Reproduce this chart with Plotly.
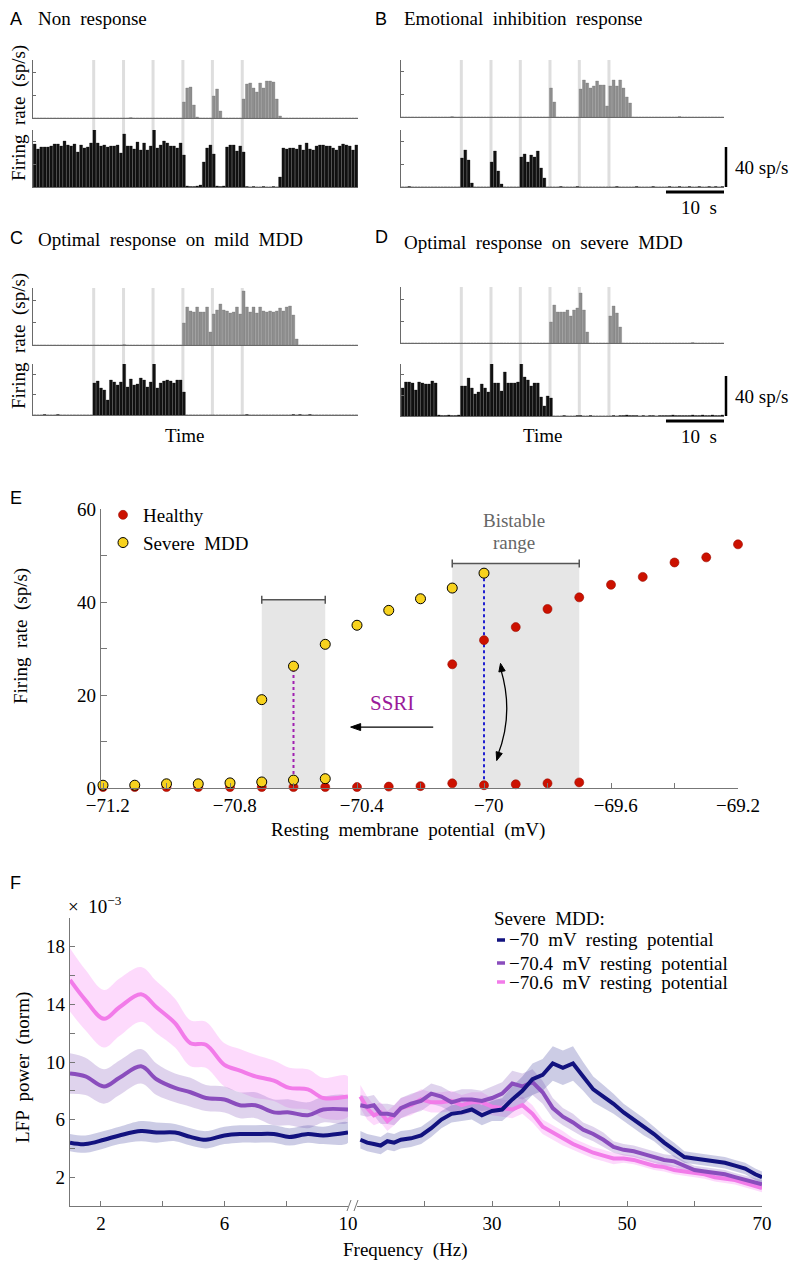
import numpy as np
import plotly.graph_objects as go

# The page shows the figure with the browser's default 8px body offset,
# so the figure is sized to fill the remaining window exactly.
WIN_W, WIN_H, OFF = 800, 1264, 8
W, H = WIN_W - OFF, WIN_H - OFF
SERIF = "Liberation Serif, Times New Roman, serif"
SANS = "Liberation Sans, Arial, sans-serif"

# ---------------- Panels A-D : firing-rate histograms (bins) ----------------
N_BINS = 98
STIM_BINS = [18.3, 27.3, 36.2, 45.2, 54.1, 63.1]
BINS_PER_10S = 17.6
SCALE_RATE = 40

A_TOP = [0,0,0,0,0,0,0,0,0,0,
         0,0,0,0,0,0,0,0,0,0,
         0,0,0,0,0,0,0,0,0,0.5,
         0,0,0,0,0,0,0,0,0,0,
         0,0,0,0,0,16,30,31,13,1,
         0,0,0,0,22,29,7,0,0,0,
         0,0,0,19,34,35,30,26,35,30,
         37,37,36,19,2,0,0,0,0,0,
         0,0,0,0,0,0,0,0,0,0,
         0,0,0,0,0,0,0,0]
A_BOT = [43,38,40,40,40,41,43,43,41,46,
         42,41,43,35,42,39,40,44,57,44,
         41,42,40,41,41,42,34,53,41,41,
         38,45,37,44,37,41,58,39,42,46,
         44,41,41,39,44,32,1,0.5,0.5,1,
         2,25,39,42,33,1,0.5,1,40,42,
         42,36,41,35,0.5,0,0.5,0,0,0.5,
         0,0,0.5,0,10,39,38,39,39,38,
         42,37,44,38,37,41,42,42,41,41,
         39,37,41,43,42,41,37,42]
B_TOP = [0,0,0,0,0,0,0,0,0,0,
         0,0,0,0,0,0.5,0,0,0,0,
         0,0,0,0,0,0,0,0,0,0,
         0,0,0,0,0,0,0,0,0,0,
         0,0,0,0,0,29,15,0,0,0,
         0,0,0,0,28,37,34,29,31,36,
         32,32,11,31,37,31,37,29,20,14,
         0,0,0,0,0,0,0,0,0,0,
         0,0,0,0,0.5,0,0,0,0,0,
         0,0,0,0,0,0,0,0]
B_BOT = [0,0,0.5,0,0,0,0,0,0,0,
         0,0,0,0,0,0,0,0,29,37,
         27,4,0,0,0,0,0,25,36,16,
         3,0,0,0,0,0,30,33,25,32,
         30,36,19,9,0,0,0,0,0.5,0,
         0,0,0,0.5,0,0,0,0,0,0,
         0,0,0,0,0,0.5,0,0,0,0,
         0,0.5,0,0,0,0,0.5,0,0,0,
         0,0.5,0,0,0.5,0,0,0.5,0,0,
         0.5,0,0,0.5,0,0.5,0,0.5]
C_TOP = [0,0,0,0,0,0,0,0,0,0,
         0,0,0,0,0,0,0,0,0,0,
         0,0,0,0,0,0,0,0.5,0,0,
         0,0,0,0,0,0,0,0,0,0,
         0,0,0,0,0,22,38,34,33,38,
         33,33,38,13,31,35,41,35,34,32,
         33,38,31,54,38,33,38,32,38,34,
         33,34,33,34,37,34,38,39,30,6,
         0,0,0,0,0,0,0,0,0,0,
         0,0,0,0,0,0,0,0]
C_BOT = [0,0,0,0.5,0,0,0,0.5,0,0,
         0,0,0,0,0,0,0,0,32,34,
         27,25,15,35,33,30,33,53,28,36,
         30,31,37,35,28,33,57,27,32,34,
         35,34,32,35,35,23,0,0,0,0,
         0,0,0,0,0,0,0,0,0,0,
         0,0,0,0,0.5,0,0,0,0,0,
         0,0,0,0,0,0,0,0,0.5,0,
         0.5,0,0,0.5,0,0,0,0,0,0,
         0,0,0,0,0,0,0,0]
D_TOP = [0,0,0,0,0,0,0,0,0,0,
         0,0,0,0,0,0,0,0,0,0,
         0,0,0,0,0,0,0,0,0,0,
         0,0,0,0,0,0,0,0,0,0,
         0,0,0,0,0,21,38,31,31,31,
         33,27,33,35,50,33,11,0,0,0,
         0,0,0,27,37,30,16,0,0,0,
         0,0,0,0,0,0,0,0,0,0,
         0,0,0,0,0,0,0,0,0.5,0,
         0,0,0,0,0,0,0,0]
D_BOT = [28,34,34,33,26,34,33,32,32,35,
         33,1,0.5,0.5,1,0.5,0.5,1,30,30,
         38,28,22,24,32,28,24,54,33,33,
         25,44,33,33,33,34,55,39,36,30,
         33,33,19,10,20,18,0,0,0,0.5,
         0,0,0,0.5,0.5,0,0,0.5,0,0,
         0,0,0,0,0.5,0,0.5,0.5,1,0.5,
         0.5,0.5,0,0.5,0,0.5,0.5,0,0.5,0.5,
         0.5,0.5,1,0.5,0.5,0.5,0.5,0.5,1,0.5,
         0.5,1,0.5,0.5,1,0.5,0.5,1]

PANEL_LETTERS = ["A", "B", "C", "D"]
PANEL_TITLES = ["Non  response", "Emotional  inhibition  response",
                "Optimal  response  on  mild  MDD", "Optimal  response  on  severe  MDD"]

# ---------------- Panel E : firing rate vs resting potential ----------------
E_TICKS = [-71.2, -71.0, -70.8, -70.6, -70.4, -70.2, -70.0, -69.8, -69.6, -69.4, -69.2]
E_TICKTEXT = ["\u2002\u221271.2", " ", "\u2002\u221270.8", " ", "\u2002\u221270.4", " ", "\u2002\u221270", " ",
              "\u2002\u221269.6", " ", "\u221269.2"]
HEALTHY_LOW_V = [-71.2, -71.1, -71.0, -70.9, -70.8, -70.7, -70.6, -70.5, -70.4, -70.3, -70.2, -70.1, -70.0, -69.9, -69.8, -69.7]
HEALTHY_LOW = [0.2, 0.2, 0.2, 0.2, 0.2, 0.2, 0.2, 0.2, 0.2, 0.3, 0.4, 1.0, 0.6, 0.8, 1.0, 1.2]
HEALTHY_HIGH_V = [-70.1, -70.0, -69.9, -69.8, -69.7, -69.6, -69.5, -69.4, -69.3, -69.2]
HEALTHY_HIGH = [26.6, 31.8, 34.6, 38.5, 41.0, 43.7, 45.4, 48.5, 49.6, 52.4]
SEVERE_LOW_V = [-71.2, -71.1, -71.0, -70.9, -70.8, -70.7, -70.6, -70.5]
SEVERE_LOW = [0.6, 0.6, 0.9, 0.9, 1.1, 1.3, 1.7, 2.0]
SEVERE_HIGH_V = [-70.7, -70.6, -70.5, -70.4, -70.3, -70.2, -70.1, -70.0]
SEVERE_HIGH = [19.0, 26.2, 30.9, 35.0, 38.2, 40.7, 43.0, 46.2]
BISTABLE_SEVERE = [-70.7, -70.5]
BISTABLE_HEALTHY = [-70.1, -69.7]
SSRI_V = -70.6
OPERATING_V = -70.0

# ---------------- Panel F : LFP power spectra ----------------
F_LEFT = [1, 1.5, 2.1, 2.6, 3.3, 3.8, 4.4, 4.9, 5.4, 6.0, 6.5, 7.0, 7.6, 8.1, 8.7, 9.2, 10]
P70_L = [4.4, 4.3, 4.6, 4.9, 5.2, 5.1, 5.1, 4.8, 4.6, 4.9, 5.0, 5.0, 5.0, 4.8, 5.0, 4.9, 5.1]
P70_L_ERR = [0.6, 0.6, 0.6, 0.6, 0.7, 0.7, 0.6, 0.6, 0.6, 0.6, 0.6, 0.6, 0.6, 0.6, 0.6, 0.6, 0.7]
P704_L = [9.2, 9.0, 8.3, 8.9, 9.7, 8.8, 8.2, 7.9, 7.5, 7.4, 7.0, 7.0, 6.5, 6.5, 6.3, 6.7, 6.7]
P704_L_ERR = [1.4, 1.3, 1.2, 1.2, 1.2, 1.1, 1.0, 1.0, 0.9, 0.9, 0.9, 0.9, 0.9, 0.9, 0.9, 0.9, 0.9]
P706_L = [15.7, 14.3, 13.0, 13.8, 14.7, 13.8, 12.7, 11.3, 11.2, 9.8, 9.4, 9.0, 8.7, 8.2, 8.1, 7.5, 7.6]
P706_L_ERR = [2.2, 2.1, 2.0, 2.0, 1.9, 1.8, 1.7, 1.6, 1.6, 1.5, 1.5, 1.5, 1.4, 1.4, 1.4, 1.4, 1.4]

F_RIGHT = [10.5, 11.5, 12.5, 13.5, 14.5, 15.5, 16.5, 18, 19.5, 21, 22.5, 24, 25.5, 27, 28.5, 30,
           31.5, 33, 34.5, 36, 37.5, 39, 40.5, 42, 43.5, 45, 46.5, 48, 49.5, 51, 52.5, 54,
           55.5, 57, 58.5, 60, 61.5, 63, 64.5, 66, 67.5, 69, 70]
P70_R = [4.6, 4.4, 4.3, 4.2, 4.5, 4.4, 4.6, 4.7, 4.9, 5.4, 6.0, 6.4, 6.5, 6.7, 6.3, 6.6,
         6.7, 7.4, 8.0, 8.8, 9.1, 9.9, 9.6, 9.9, 9.0, 8.1, 7.6, 7.1, 6.5, 6.0, 5.5, 5.0,
         4.4, 3.9, 3.4, 3.3, 3.2, 3.1, 3.0, 2.8, 2.6, 2.2, 2.0]
P70_R_ERR = [0.6, 0.6, 0.6, 0.6, 0.6, 0.6, 0.6, 0.6, 0.6, 0.6, 0.6, 0.6, 0.6, 0.7, 0.7, 0.7,
             0.8, 0.9, 1.0, 1.1, 1.1, 1.2, 1.2, 1.2, 1.0, 0.9, 0.8, 0.7, 0.6, 0.6, 0.6, 0.5,
             0.5, 0.5, 0.4, 0.4, 0.4, 0.4, 0.4, 0.4, 0.4, 0.4, 0.4]
P704_R = [7.0, 6.9, 7.0, 6.4, 6.4, 6.3, 6.8, 7.1, 7.3, 7.8, 7.6, 7.2, 7.4, 7.4, 7.3, 7.5,
          7.8, 8.5, 8.3, 8.6, 7.9, 6.8, 6.2, 5.8, 5.3, 5.0, 4.6, 4.1, 3.9, 3.8, 3.6, 3.4,
          3.2, 3.1, 2.8, 2.5, 2.4, 2.3, 2.2, 2.0, 1.8, 1.6, 1.5]
P704_R_ERR = [0.7, 0.7, 0.7, 0.7, 0.7, 0.7, 0.7, 0.7, 0.7, 0.7, 0.7, 0.7, 0.7, 0.7, 0.7, 0.8,
              0.8, 0.9, 0.9, 0.9, 0.8, 0.7, 0.6, 0.6, 0.5, 0.5, 0.5, 0.4, 0.4, 0.4, 0.4, 0.4,
              0.4, 0.4, 0.3, 0.3, 0.3, 0.3, 0.3, 0.3, 0.3, 0.3, 0.3]
P706_R = [7.6, 6.8, 6.3, 6.5, 5.9, 6.3, 6.8, 7.0, 7.4, 7.2, 7.2, 7.3, 7.0, 7.2, 7.2, 6.9,
          6.8, 6.7, 7.0, 6.4, 5.5, 5.1, 4.7, 4.3, 4.0, 3.7, 3.5, 3.3, 3.3, 3.2, 3.0, 2.8,
          2.7, 2.5, 2.4, 2.3, 2.2, 2.0, 1.9, 1.8, 1.6, 1.4, 1.25]
P706_R_ERR = [0.8, 0.8, 0.7, 0.7, 0.7, 0.7, 0.7, 0.7, 0.7, 0.7, 0.7, 0.7, 0.7, 0.7, 0.7, 0.6,
              0.6, 0.6, 0.6, 0.6, 0.5, 0.5, 0.5, 0.4, 0.4, 0.4, 0.4, 0.4, 0.3, 0.3, 0.3, 0.3,
              0.3, 0.3, 0.3, 0.3, 0.3, 0.3, 0.3, 0.3, 0.3, 0.3, 0.3]
F_SERIES = ["\u221270  mV  resting  potential", "\u221270.4  mV  resting  potential",
            "\u221270.6  mV  resting  potential"]
F_LINE_COLORS = ["#12127f", "#8a4dbd", "#f27be9"]
F_BAND_COLORS = ["rgba(85,85,170,0.30)", "rgba(150,110,195,0.30)", "rgba(248,150,245,0.35)"]


def X(px):
    return (px - OFF) / W


def Y(py):
    return 1 - (py - OFF) / H


def txt(s, x, y, size=19, anchor="left", color="black", family=SERIF, angle=0):
    return dict(text=s, x=X(x), y=Y(y), xref="paper", yref="paper", xanchor=anchor, yanchor="middle",
                showarrow=False, textangle=angle, font=dict(family=family, size=size, color=color))


fig = go.Figure()
layout = dict(width=W, height=H, margin=dict(l=0, r=0, t=0, b=0, pad=0, autoexpand=False), autosize=False,
              paper_bgcolor="white", plot_bgcolor="rgba(0,0,0,0)", bargap=0.12,
              showlegend=True, font=dict(family=SERIF, size=19, color="black"))
shapes, annotations = [], []

AX_COL = "#6a6a6a"


def ref(kind, i):
    return kind if i == 1 else f"{kind}{i}"


def axname(kind, i):
    return kind + "axis" + ("" if i == 1 else str(i))


HIST = [
    dict(data=(A_TOP, A_BOT), x=(33, 358), top=(60, 118), bot=(130, 187), rt=58, rb=57, tt=[23, 46], tb=[23, 46]),
    dict(data=(B_TOP, B_BOT), x=(401, 724), top=(60, 117), bot=(130, 187), rt=57, rb=57, tt=[23, 46], tb=[23, 46]),
    dict(data=(C_TOP, C_BOT), x=(33, 358), top=(288, 345), bot=(364, 415), rt=57, rb=51, tt=[22.5, 45], tb=[20.5, 41]),
    dict(data=(D_TOP, D_BOT), x=(401, 724), top=(287, 343), bot=(364, 416), rt=56, rb=52, tt=[22, 44], tb=[21, 42]),
]
TITLE_Y = [(19, 19), (19, 19), (238, 240), (237, 242)]
YLABEL_Y = [113, None, 341, None]
bin_x = np.arange(N_BINS) + 0.5

for p, cfg in enumerate(HIST):
    it, ib = 2 * p + 1, 2 * p + 2
    for idx, dat, (t, b), rng, tv, col, lcol in [
        (it, cfg["data"][0], cfg["top"], cfg["rt"], cfg["tt"], "#8e8e8e", "#6c6c6c"),
        (ib, cfg["data"][1], cfg["bot"], cfg["rb"], cfg["tb"], "#111111", "#111111"),
    ]:
        layout[axname("x", idx)] = dict(domain=[X(cfg["x"][0]), X(cfg["x"][1])], range=[0, N_BINS],
                                        anchor=ref("y", idx), showline=True, linecolor=AX_COL, linewidth=1,
                                        ticks="", showticklabels=False, showgrid=False, zeroline=False,
                                        automargin=False)
        layout[axname("y", idx)] = dict(domain=[Y(b), Y(t)], range=[0, rng], anchor=ref("x", idx),
                                        showline=True, linecolor=AX_COL, linewidth=1, ticks="inside",
                                        ticklen=3, tickcolor=AX_COL, tickvals=tv, showticklabels=False,
                                        showgrid=False, zeroline=False, automargin=False)
        fig.add_trace(go.Bar(x=bin_x, y=dat, xaxis=ref("x", idx), yaxis=ref("y", idx),
                             marker=dict(color=col, line=dict(color=lcol, width=0.3)),
                             cliponaxis=False, showlegend=False, hoverinfo="skip"))
    for s in STIM_BINS:
        shapes.append(dict(type="line", xref=ref("x", it), yref="paper", x0=s, x1=s,
                           y0=Y(cfg["bot"][1]), y1=Y(cfg["top"][0]), layer="below",
                           line=dict(color="#dedede", width=3)))
    ly, ty = TITLE_Y[p]
    annotations.append(txt(PANEL_LETTERS[p], 8 if p % 2 == 0 else 373, ly, size=18, family=SANS))
    annotations.append(txt(PANEL_TITLES[p], 36 if p % 2 == 0 else 402, ty))
    if p % 2 == 0:
        annotations.append(txt("Firing  rate  (sp/s)", 19, YLABEL_Y[p], anchor="center", angle=-90))
    else:
        shapes.append(dict(type="line", xref="paper", yref=ref("y", ib), x0=X(726), x1=X(726), y0=0,
                           y1=SCALE_RATE, line=dict(color="black", width=2.5)))
        yb = cfg["bot"][1] + 5
        shapes.append(dict(type="line", xref=ref("x", ib), yref="paper", x0=N_BINS - BINS_PER_10S, x1=N_BINS,
                           y0=Y(yb), y1=Y(yb), line=dict(color="black", width=3)))
        annotations.append(txt(f"{SCALE_RATE} sp/s", 733, cfg["bot"][1] - 20))
        annotations.append(txt("10  s", 699, yb + 15, anchor="center"))
    if p >= 2:
        cx = 184 if p == 2 else 542
        annotations.append(txt("Time", cx, 435, anchor="center"))

# ---------------- Panel E ----------------
ex, ey = "x9", "y9"
E_X0, E_X1, E_RANGE = 101, 738, [-71.2063, -69.2]
E_Y0, E_Y1, E_YRANGE = 788, 509, [0, 60]
layout["xaxis9"] = dict(domain=[X(E_X0), X(E_X1)], range=E_RANGE, anchor=ey, showline=True,
                        linecolor="#777", linewidth=1.2, ticks="inside", ticklen=5, tickcolor="#777",
                        tickvals=E_TICKS, ticktext=E_TICKTEXT, tickfont=dict(family=SERIF, size=19, color="black"),
                        showgrid=False, zeroline=False, automargin=False)
layout["yaxis9"] = dict(domain=[Y(E_Y0), Y(E_Y1)], range=E_YRANGE, anchor=ex, showline=True, linecolor="#777",
                        linewidth=1.2, ticks="inside", ticklen=6, tickcolor="#777",
                        tickvals=[0, 10, 20, 30, 40, 50, 60], ticktext=["0", " ", "20", " ", "40", " ", "60"],
                        tickfont=dict(family=SERIF, size=19, color="black"), showgrid=False, zeroline=False,
                        automargin=False)
DX = (E_RANGE[1] - E_RANGE[0]) / (E_X1 - E_X0)
DY = (E_YRANGE[1] - E_YRANGE[0]) / (E_Y0 - E_Y1)

BRACKET_Y = {"severe": 40.5, "healthy": 48.3}
for key, rng in [("severe", BISTABLE_SEVERE), ("healthy", BISTABLE_HEALTHY)]:
    by = BRACKET_Y[key]
    shapes.append(dict(type="rect", xref=ex, yref=ey, x0=rng[0], x1=rng[1], y0=0, y1=by,
                       fillcolor="#e6e6e6", line=dict(width=0), layer="below"))
    shapes.append(dict(type="line", xref=ex, yref=ey, x0=rng[0], x1=rng[1], y0=by, y1=by,
                       line=dict(color="#555", width=1.5)))
    for xv in rng:
        shapes.append(dict(type="line", xref=ex, yref=ey, x0=xv, x1=xv, y0=by - 4 * DY, y1=by + 4 * DY,
                           line=dict(color="#555", width=1.5)))

sev_low = dict(zip(SEVERE_LOW_V, SEVERE_LOW))
sev_high = dict(zip(SEVERE_HIGH_V, SEVERE_HIGH))
hea_low = dict(zip(HEALTHY_LOW_V, HEALTHY_LOW))
fig.add_trace(go.Scatter(x=[SSRI_V, SSRI_V], y=[sev_low[SSRI_V], sev_high[SSRI_V]], xaxis=ex, yaxis=ey,
                         mode="lines", line=dict(color="#a020b0", width=2, dash="dot"), showlegend=False,
                         hoverinfo="skip"))
fig.add_trace(go.Scatter(x=[OPERATING_V, OPERATING_V], y=[hea_low[OPERATING_V], sev_high[OPERATING_V]],
                         xaxis=ex, yaxis=ey, mode="lines", line=dict(color="#2020d0", width=2, dash="dot"),
                         showlegend=False, hoverinfo="skip"))
fig.add_trace(go.Scatter(x=HEALTHY_LOW_V + HEALTHY_HIGH_V, y=HEALTHY_LOW + HEALTHY_HIGH, xaxis=ex, yaxis=ey,
                         mode="markers", name="Healthy", cliponaxis=False,
                         marker=dict(size=9, color="#cc1100", line=dict(color="#9a0c00", width=0.6))))
fig.add_trace(go.Scatter(x=SEVERE_LOW_V + SEVERE_HIGH_V, y=SEVERE_LOW + SEVERE_HIGH, xaxis=ex, yaxis=ey,
                         mode="markers", name="Severe  MDD", cliponaxis=False,
                         marker=dict(size=10, color="#f7d21e", line=dict(color="black", width=1))))


def head(tx, ty, bx_px, by_px, half=3.2):
    """filled arrow head: tip at (tx,ty) data, base centre offset (bx_px, by_px) in pixels (y up)."""
    L = (bx_px ** 2 + by_px ** 2) ** 0.5
    nx, ny = -by_px / L * half, bx_px / L * half
    p1 = (tx + (bx_px + nx) * DX, ty + (by_px + ny) * DY)
    p2 = (tx + (bx_px - nx) * DX, ty + (by_px - ny) * DY)
    return dict(type="path", xref=ex, yref=ey, fillcolor="black", line=dict(color="black", width=1),
                path=f"M {tx},{ty} L {p1[0]},{p1[1]} L {p2[0]},{p2[1]} Z")


SSRI_ARROW = (-70.16, -70.42, 13.1)
shapes.append(dict(type="line", xref=ex, yref=ey, x0=SSRI_ARROW[0], x1=SSRI_ARROW[1] + 6 * DX,
                   y0=SSRI_ARROW[2], y1=SSRI_ARROW[2], line=dict(color="black", width=1.3)))
shapes.append(head(SSRI_ARROW[1], SSRI_ARROW[2], 10, 0, half=3.5))
annotations.append(dict(text="SSRI", x=-70.29, y=18.3, xref=ex, yref=ey, xanchor="center", yanchor="middle",
                        showarrow=False, font=dict(family=SERIF, size=21, color="#9a1a9a")))
annotations.append(dict(text="Bistable", x=-69.905, y=Y(520), xref=ex, yref="paper", xanchor="center",
                        yanchor="middle", showarrow=False, font=dict(family=SERIF, size=19, color="#666")))
annotations.append(dict(text="range", x=-69.905, y=Y(542), xref=ex, yref="paper", xanchor="center",
                        yanchor="middle", showarrow=False, font=dict(family=SERIF, size=19, color="#666")))
shapes.append(dict(type="path", xref=ex, yref=ey, path="M -69.947,25.5 Q -69.905,16 -69.957,7.0",
                   line=dict(color="black", width=1.3)))
shapes.append(head(-69.948, 26.8, 1.5, -8))
shapes.append(head(-69.960, 5.9, 2.5, 8))

annotations.append(txt("E", 8, 498, size=18, family=SANS))
annotations.append(txt("Firing  rate  (sp/s)", 21, 636, anchor="center", angle=-90))
annotations.append(txt("Resting  membrane  potential  (mV)", 408, 830, anchor="center"))

layout["legend"] = dict(x=X(103), y=Y(496), xanchor="left", yanchor="top", bgcolor="rgba(0,0,0,0)",
                        font=dict(family=SERIF, size=19, color="black"), itemwidth=30, tracegroupgap=0)

# ---------------- Panel F ----------------
layout["xaxis10"] = dict(domain=[X(70), X(348)], range=[1, 10], anchor="y10", showline=True, linecolor="#777",
                         linewidth=1.2, ticks="inside", ticklen=5, tickcolor="#777", tickvals=[2, 4, 6, 8, 10],
                         ticktext=["2", " ", "6", " ", "10"], tickfont=dict(family=SERIF, size=19, color="black"),
                         showgrid=False, zeroline=False, automargin=False)
layout["xaxis11"] = dict(domain=[X(357), X(762)], range=[10, 70], anchor="y10", showline=True, linecolor="#777",
                         linewidth=1.2, ticks="inside", ticklen=5, tickcolor="#777",
                         tickvals=[20, 30, 40, 50, 60, 70], ticktext=[" ", "30", " ", "50", " ", "70"],
                         tickfont=dict(family=SERIF, size=19, color="black"), showgrid=False, zeroline=False,
                         automargin=False)
layout["yaxis10"] = dict(domain=[Y(1206), Y(918)], range=[0, 20], anchor="x10", showline=True, linecolor="#777",
                         linewidth=1.2, ticks="inside", ticklen=5, tickcolor="#777",
                         tickvals=[2, 4, 6, 8, 10, 12, 14, 16, 18],
                         ticktext=["2", " ", "6", " ", "10", " ", "14", " ", "18"],
                         tickfont=dict(family=SERIF, size=19, color="black"), showgrid=False, zeroline=False,
                         automargin=False)

left_sets = [(P70_L, P70_L_ERR), (P704_L, P704_L_ERR), (P706_L, P706_L_ERR)]
right_sets = [(P70_R, P70_R_ERR), (P704_R, P704_R_ERR), (P706_R, P706_R_ERR)]
for order in [2, 1, 0]:
    for xs, (m, e), xa, shape in [(F_LEFT, left_sets[order], "x10", "spline"),
                                  (F_RIGHT, right_sets[order], "x11", "linear")]:
        up = [a + b for a, b in zip(m, e)]
        lo = [a - b for a, b in zip(m, e)]
        fig.add_trace(go.Scatter(x=list(xs) + list(xs)[::-1], y=up + lo[::-1], xaxis=xa, yaxis="y10",
                                 fill="toself", fillcolor=F_BAND_COLORS[order], mode="lines",
                                 line=dict(width=0, shape=shape), showlegend=False, hoverinfo="skip"))
for order in [2, 1, 0]:
    for xs, (m, e), xa, shape in [(F_LEFT, left_sets[order], "x10", "spline"),
                                  (F_RIGHT, right_sets[order], "x11", "linear")]:
        fig.add_trace(go.Scatter(x=xs, y=m, xaxis=xa, yaxis="y10", mode="lines",
                                 line=dict(color=F_LINE_COLORS[order], width=4, shape=shape),
                                 name=F_SERIES[order], showlegend=False))

annotations.append(txt("Severe  MDD:", 492, 918))
for i, yy in enumerate([940, 963, 982]):
    shapes.append(dict(type="line", xref="paper", yref="paper", x0=X(497), x1=X(505), y0=Y(yy), y1=Y(yy),
                       line=dict(color=F_LINE_COLORS[i], width=3.5)))
    annotations.append(txt(F_SERIES[i], 507, yy))

annotations.append(txt("\u00d7  10<sup>\u22123</sup>", 66, 905))
annotations.append(txt("F", 8, 883, size=18, family=SANS))
annotations.append(txt("LFP  power  (norm)", 23, 1068, anchor="center", angle=-90))
annotations.append(txt("Frequency  (Hz)", 405, 1250, anchor="center"))
for x0 in [347, 354]:
    shapes.append(dict(type="line", xref="paper", yref="paper", x0=X(x0), x1=X(x0 + 4), y0=Y(1211), y1=Y(1200),
                       line=dict(color="#777", width=1)))

layout["shapes"] = shapes
layout["annotations"] = annotations
fig.update_layout(**layout)
fig.write_html("out.html")
